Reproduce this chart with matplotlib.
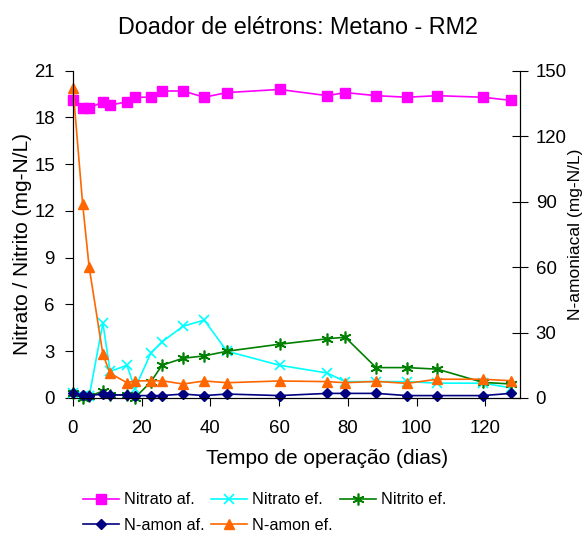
import matplotlib.pyplot as plt

plt.rcParams['font.family'] = ['Liberation Sans', 'DejaVu Sans']

# dias de operação
dias = [0, 2.8, 4.7, 8.7, 10.8, 15.7, 18, 22.7, 25.9, 32, 38.2, 44.8, 60.1,
        74, 79.2, 88.2, 97.2, 106, 119.3, 127.4]

# eixo esquerdo (mg-N/L)
nitrato_af = [19.1, 18.6, 18.6, 19.0, 18.8, 19.0, 19.3, 19.3, 19.7, 19.7, 19.3, 19.6, 19.8,
              19.4, 19.6, 19.4, 19.3, 19.4, 19.3, 19.1]
nitrato_ef = [0.3, 0.1, 0.1, 4.8, 1.7, 2.1, 0.6, 2.9, 3.6, 4.6, 5.0, 3.0, 2.1,
              1.6, 1.05, 1.05, 1.05, 0.95, 0.95, 0.65]
nitrito_ef = [0.3, 0.0, 0.1, 0.45, 0.2, 0.2, 0.0, 1.05, 2.1, 2.55, 2.7, 3.0, 3.45,
              3.8, 3.9, 1.95, 1.95, 1.85, 1.0, 0.9]

# eixo direito (mg-N/L)
namon_af = [2.1, 1.4, 1.1, 1.8, 1.4, 1.4, 1.1, 1.1, 1.1, 1.8, 1.1, 1.8, 1.1,
            2.1, 2.1, 2.1, 1.1, 1.1, 1.1, 2.1]
namon_ef = [142, 89, 60, 20, 11.3, 7.0, 7.8, 7.9, 7.9, 6.4, 7.8, 7.0, 7.8,
            7.5, 7.0, 7.6, 6.7, 8.6, 8.6, 7.9]

fig = plt.figure(figsize=(5.84, 5.4), dpi=100)
ax = fig.add_axes([0.125, 0.263, 0.765, 0.606])
ax2 = ax.twinx()

l1, = ax.plot(dias, nitrato_af, color='#FF00FF', marker='s', ms=6.5, lw=1.2, clip_on=False)
l2, = ax.plot(dias, nitrato_ef, color='#00FFFF', marker='x', ms=7.5, mew=1.2, lw=1.2, clip_on=False)
l3, = ax.plot(dias, nitrito_ef, color='#008000', marker=(6, 2, 0), ms=8.5, mew=1.2, lw=1.2, clip_on=False)
l4, = ax2.plot(dias, namon_af, color='#000080', marker='D', ms=5, lw=1.2, clip_on=False)
l5, = ax2.plot(dias, namon_ef, color='#FF6600', marker='^', ms=7.5, lw=1.2, clip_on=False)

ax.set_xlim(0, 130)
ax.set_ylim(0, 21)
ax2.set_ylim(0, 150)
ax.set_xticks(range(0, 121, 20))
ax.set_yticks(range(0, 22, 3))
ax2.set_yticks(range(0, 151, 30))

for a in (ax, ax2):
    a.spines['top'].set_visible(False)
ax.tick_params(axis='x', labelsize=13.4, direction='out', length=6, pad=10)
ax.tick_params(axis='y', labelsize=13.4, direction='out', length=6, pad=7)
ax2.tick_params(axis='y', labelsize=13.4, direction='inout', length=11, pad=6)

ax.set_xlabel('Tempo de operação (dias)', fontsize=15)
ax.xaxis.label.set_verticalalignment('baseline')
ax.xaxis.set_label_coords(0.568, -0.202)
ax.set_ylabel('Nitrato / Nitrito (mg-N/L)', fontsize=15)
ax.yaxis.label.set_verticalalignment('center')
ax.yaxis.set_label_coords(-0.114, 0.47)
ax2.set_ylabel('N-amoniacal (mg-N/L)', fontsize=12.5)
ax2.yaxis.label.set_verticalalignment('center')
ax2.yaxis.set_label_coords(1.124, 0.5)
fig.text(0.511, 0.9365, 'Doador de elétrons: Metano - RM2', fontsize=16.8,
         ha='center', va='baseline')

# ordem por colunas para que as linhas fiquem como no original
handles = [l1, l4, l2, l5, l3]
labels = ['Nitrato af.', 'N-amon af.', 'Nitrato ef.', 'N-amon ef.', 'Nitrito ef.']
fig.legend(handles, labels, ncol=3, loc='upper left', bbox_to_anchor=(0.142, 0.088),
           frameon=False, fontsize=11.7, handlelength=2.2, columnspacing=0.45,
           handletextpad=0.3, labelspacing=0.65, borderpad=0, borderaxespad=0)

fig.savefig('out.png', dpi=100)
